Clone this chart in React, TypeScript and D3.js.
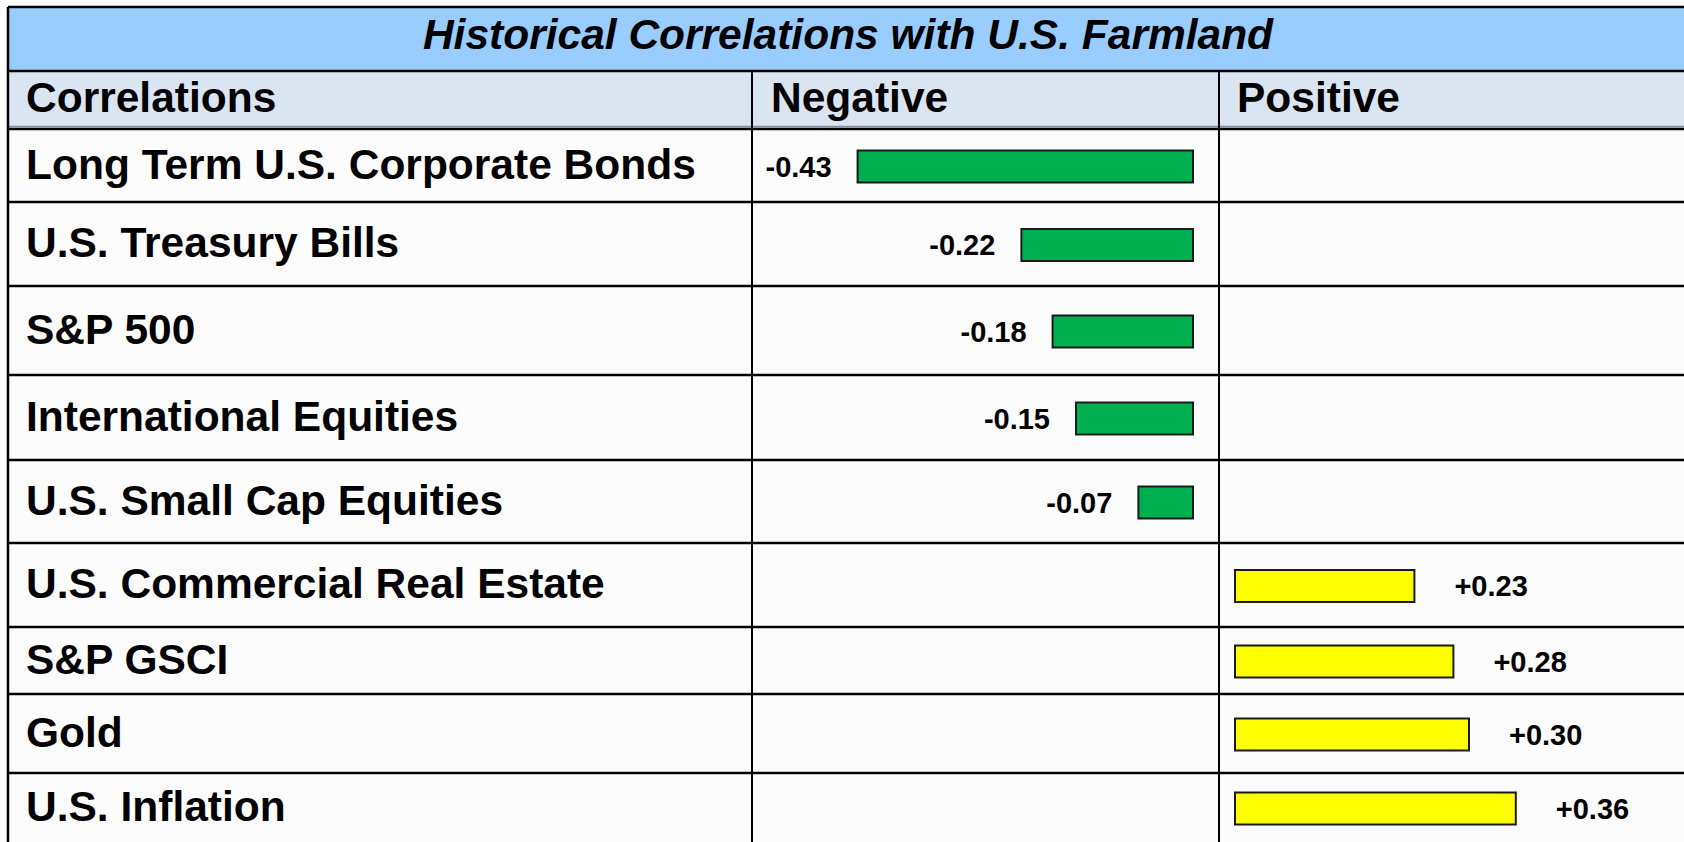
import React from "react";
import * as d3 from "d3";

// ---------- DATA ----------
const title = "Historical Correlations with U.S. Farmland";
const columnHeaders = ["Correlations", "Negative", "Positive"];
const categories = [
  "Long Term U.S. Corporate Bonds",
  "U.S. Treasury Bills",
  "S&P 500",
  "International Equities",
  "U.S. Small Cap Equities",
  "U.S. Commercial Real Estate",
  "S&P GSCI",
  "Gold",
  "U.S. Inflation",
];
const correlations = [-0.43, -0.22, -0.18, -0.15, -0.07, 0.23, 0.28, 0.3, 0.36];

// ---------- LAYOUT ----------
const W = 1684;
const H = 842;
const LEFT = 8;
const TOP = 7;
const TITLE_BOTTOM = 71;
const HEADER_BOTTOM = 129;
const ROW_EDGES = [129, 202, 286, 375, 460, 543, 627, 694, 773, 858];
const COL1 = 752;
const COL2 = 1219;
const NEG_ZERO = 1193;
const POS_ZERO = 1235;
const BAR_H = 32;
const FONT = "'Liberation Sans', Arial, Helvetica, sans-serif";

const fmt = (v: number) => (v > 0 ? "+" : v < 0 ? "-" : "") + d3.format(".2f")(Math.abs(v));

export default function App() {
  const len = d3.scaleLinear().domain([0, 1]).range([0, 780]);

  return (
    <svg
      width={W}
      height={H}
      viewBox={`0 0 ${W} ${H}`}
      style={{ position: "absolute", left: 0, top: 0, background: "#ffffff" }}
    >
      {/* title band */}
      <rect x={LEFT} y={TOP} width={W - LEFT} height={TITLE_BOTTOM - TOP} fill="#99CCFF" />
      {/* header band */}
      <rect x={LEFT} y={TITLE_BOTTOM} width={W - LEFT} height={HEADER_BOTTOM - TITLE_BOTTOM} fill="#DBE5F1" />
      {/* body */}
      <rect x={LEFT} y={HEADER_BOTTOM} width={W - LEFT} height={H - HEADER_BOTTOM} fill="#FCFCFC" />

      <text
        x={848}
        y={49}
        textAnchor="middle"
        fontFamily={FONT}
        fontWeight="bold"
        fontStyle="italic"
        fontSize={42.5}
        fill="#000"
      >
        {title}
      </text>

      {columnHeaders.map((h, i) => (
        <text
          key={h}
          x={[LEFT + 18, COL1 + 19, COL2 + 18][i]}
          y={112}
          fontFamily={FONT}
          fontWeight="bold"
          fontSize={42.5}
          fill="#000"
        >
          {h}
        </text>
      ))}

      {/* rows */}
      {categories.map((c, i) => {
        const y0 = ROW_EDGES[i];
        const y1 = ROW_EDGES[i + 1];
        const cy = i === categories.length - 1 ? (y0 + 842) / 2 : (y0 + y1) / 2;
        const v = correlations[i];
        const L = len(Math.abs(v));
        const neg = v < 0;
        const bx = neg ? NEG_ZERO - L : POS_ZERO;
        return (
          <g key={c}>
            <text
              x={LEFT + 18}
              y={cy + 13}
              fontFamily={FONT}
              fontWeight="bold"
              fontSize={42.5}
              fill="#000"
            >
              {c}
            </text>
            <rect
              x={bx}
              y={cy + 1 - BAR_H / 2}
              width={L}
              height={BAR_H}
              fill={neg ? "#00B050" : "#FFFF00"}
              stroke="#1a1a1a"
              strokeWidth={2}
            />
            <text
              x={neg ? bx - 26 : bx + L + 40}
              y={cy + 11}
              textAnchor={neg ? "end" : "start"}
              fontFamily={FONT}
              fontWeight="bold"
              fontSize={29}
              fill="#000"
            >
              {fmt(v)}
            </text>
          </g>
        );
      })}

      {/* grid lines */}
      <line x1={LEFT} x2={W} y1={TOP} y2={TOP} stroke="#000" strokeWidth={2.5} />
      <line x1={LEFT} x2={W} y1={TITLE_BOTTOM} y2={TITLE_BOTTOM} stroke="#000" strokeWidth={2.5} />
      <line x1={LEFT} x2={W} y1={HEADER_BOTTOM - 2.5} y2={HEADER_BOTTOM - 2.5} stroke="#8a8f99" strokeWidth={1.5} />
      {ROW_EDGES.slice(0, -1).map((y) => (
        <line key={y} x1={LEFT} x2={W} y1={y} y2={y} stroke="#000" strokeWidth={2.5} />
      ))}
      <line x1={LEFT} x2={LEFT} y1={TOP} y2={H} stroke="#000" strokeWidth={2.5} />
      <line x1={COL1} x2={COL1} y1={TITLE_BOTTOM} y2={H} stroke="#000" strokeWidth={2} />
      <line x1={COL2} x2={COL2} y1={TITLE_BOTTOM} y2={H} stroke="#000" strokeWidth={2} />
    </svg>
  );
}
